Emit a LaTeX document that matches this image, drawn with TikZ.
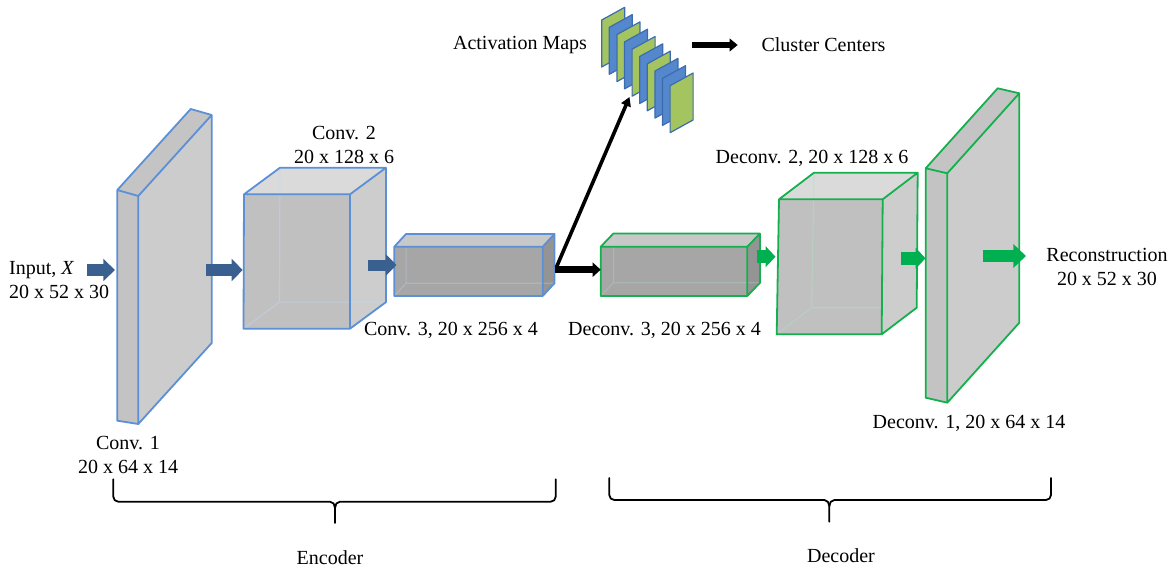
\documentclass[tikz,border=0pt]{standalone}
\usepackage{fontspec}
\setmainfont{Liberation Serif}
\usetikzlibrary{calc,arrows.meta}

\definecolor{boxblue}{RGB}{91,143,214}
\definecolor{boxgreen}{RGB}{20,176,78}
\definecolor{arrblue}{RGB}{58,96,144}
\definecolor{arrgreen}{RGB}{0,176,80}
\definecolor{mapg}{RGB}{163,196,94}
\definecolor{mapb}{RGB}{85,135,204}
\definecolor{mapedge}{RGB}{60,108,176}
% face shades: t = thin slab, c = cube, b = bar
\definecolor{tfront}{RGB}{195,195,195}
\definecolor{ttop}{RGB}{196,196,196}
\definecolor{tside}{RGB}{204,204,204}
\definecolor{cfront}{RGB}{192,192,192}
\definecolor{ctop}{RGB}{218,218,218}
\definecolor{cside}{RGB}{205,205,205}
\definecolor{bfront}{RGB}{166,166,166}
\definecolor{btop}{RGB}{200,200,200}
\definecolor{bside}{RGB}{148,148,148}

% #1 name, #2..#5 front corners (TL,TR,BR,BL), #6 depth offset, #7 edge colour, #8 shade family
\newcommand\prism[8]{%
  \coordinate (#1-A) at #2; \coordinate (#1-B) at #3;
  \coordinate (#1-C) at #4; \coordinate (#1-D) at #5;
  \coordinate (#1-E) at ($(#1-A)+#6$); \coordinate (#1-F) at ($(#1-B)+#6$);
  \coordinate (#1-G) at ($(#1-C)+#6$); \coordinate (#1-H) at ($(#1-D)+#6$);
  \fill[#8top] (#1-A) -- (#1-B) -- (#1-F) -- (#1-E) -- cycle;
  \fill[#8side] (#1-B) -- (#1-F) -- (#1-G) -- (#1-C) -- cycle;
  \fill[#8front] (#1-A) -- (#1-B) -- (#1-C) -- (#1-D) -- cycle;
  \draw[hiddenedge, draw=#7!35!white, #8hidden] (#1-E) -- (#1-H) -- (#1-G) (#1-H) -- (#1-D);
  \draw[boxedge, draw=#7] (#1-A) -- (#1-B) -- (#1-C) -- (#1-D) -- cycle
    (#1-A) -- (#1-E) -- (#1-F) -- (#1-G) -- (#1-C) (#1-B) -- (#1-F);
}

\tikzset{
  lbl/.style={font=\fontsize{20}{24}\selectfont, inner sep=0pt, align=center},
  boxedge/.style={line width=1.8pt, line join=round},
  hiddenedge/.style={line width=1.2pt, draw opacity=0.45},
  thidden/.style={draw opacity=0},
  chidden/.style={},
  bhidden/.style={draw opacity=0.3},
  blockarrow/.style n args={4}{draw=#4, line width=#1,
    -{Triangle[length=#2, width=#3, fill=#4]}},
  sheet/.style={draw=mapedge, line width=1.2pt, line join=round},
  bracepath/.style={line width=1.8pt, line join=round, line cap=round},
}

\begin{document}
\begin{tikzpicture}[x=1pt, y=-1pt]
\useasboundingbox (0,0) rectangle (1173,570);

% encoder blocks
\prism{conv1}{(117.3,190)}{(138.3,196)}{(138.3,424)}{(117.3,420.7)}{(73.4,-81)}{boxblue}{t}
\prism{conv2}{(244,194.3)}{(350,194.3)}{(350,328.7)}{(243.5,328.7)}{(36,-26.6)}{boxblue}{c}
\prism{conv3}{(394.3,246.7)}{(542.7,246.7)}{(542.7,296)}{(394.3,296)}{(11.8,-12.8)}{boxblue}{b}
% decoder blocks
\prism{dconv3}{(600.7,246.7)}{(747.3,246.7)}{(747.3,296)}{(600.7,296)}{(12.7,-13.2)}{boxgreen}{b}
\prism{dconv2}{(779,199.3)}{(882.7,199.3)}{(881.7,334.3)}{(776.7,334.3)}{(35,-26.6)}{boxgreen}{c}
\prism{dconv1}{(925.7,168.3)}{(947.3,173.3)}{(947.3,402.7)}{(925.7,397.7)}{(72,-80)}{boxgreen}{t}

% stack of activation maps
\foreach \c [count=\i from 0] in {mapg,mapb,mapg,mapb,mapg,mapb,mapg,mapb,mapb,mapg}
  \draw[sheet, fill=\c] ({601.7+7.6*\i},{20+7.3*\i}) -- ++(23,-12.7) -- ++(0,47) -- ++(-23,12.7) -- cycle;

% labels
\node[lbl, anchor=west, align=left] (input) at (9,280) {Input, \textit{X}\\20 x 52 x 30};
\node[lbl] (lconv1) at (128,455) {Conv. 1\\20 x 64 x 14};
\node[lbl] (lconv2) at (344,144.5) {Conv. 2\\20 x 128 x 6};
\node[lbl] (lconv3) at (451,330) {Conv. 3, 20 x 256 x 4};
\node[lbl] (ldconv3) at (664.5,330) {Deconv. 3, 20 x 256 x 4};
\node[lbl] (ldconv2) at (812,158) {Deconv. 2, 20 x 128 x 6};
\node[lbl] (ldconv1) at (969,423) {Deconv. 1, 20 x 64 x 14};
\node[lbl] (recon) at (1107,266.5) {Reconstruction\\20 x 52 x 30};
\node[lbl] (maps) at (520,45) {Activation Maps};
\node[lbl] (centers) at (823.5,45) {Cluster Centers};
\node[lbl] (enc) at (330,558) {Encoder};
\node[lbl] (dec) at (841,556) {Decoder};

% connector end points
\coordinate (a1s) at (87,270);    \coordinate (a1e) at (115,270);
\coordinate (a2s) at (206,270);   \coordinate (a2e) at (242.7,270);
\coordinate (a3s) at (368.3,265); \coordinate (a3e) at (396.5,265);
\coordinate (c3out) at (555,269.7); \coordinate (d3in) at (600.7,269.7);
\coordinate (c3up) at (556.5,267); \coordinate (mapsin) at (629.5,97);
\coordinate (g1s) at (756.7,256.7); \coordinate (g1e) at (775.5,256.7);
\coordinate (g2s) at (901,258.3);   \coordinate (g2e) at (925.5,258.3);
\coordinate (g3s) at (982.7,256);   \coordinate (g3e) at (1026,256);
\coordinate (mapsout) at (691.7,45); \coordinate (ccin) at (737.7,45);

% flow arrows
\draw[blockarrow={11.3pt}{11.7pt}{21.7pt}{arrblue}] (a1s) -- (a1e);
\draw[blockarrow={11.3pt}{11pt}{21.7pt}{arrblue}] (a2s) -- (a2e);
\draw[blockarrow={11pt}{10.7pt}{21pt}{arrblue}] (a3s) -- (a3e);
\draw[blockarrow={6.5pt}{8pt}{14pt}{black}] (c3out) -- (d3in);
\draw[line width=3.6pt, -{Triangle[length=9pt, width=10pt]}] (c3up) -- (mapsin);
\draw[blockarrow={6pt}{8pt}{12.5pt}{black}] (mapsout) -- (ccin);
\draw[blockarrow={12.5pt}{10pt}{20.7pt}{arrgreen}] (g1s) -- (g1e);
\draw[blockarrow={12.5pt}{10pt}{20.7pt}{arrgreen}] (g2s) -- (g2e);
\draw[blockarrow={12.3pt}{12.7pt}{23.3pt}{arrgreen}] (g3s) -- (g3e);

% braces
\draw[bracepath] (113.3,479.3) -- (113.3,496.7) to[out=-90,in=180] (118.3,501.7)
  -- (330,501.7) to[out=0,in=90] (335,507.7) -- (335,523);
\draw[bracepath] (555.7,479.3) -- (555.7,496.7) to[out=-90,in=0] (550.7,501.7)
  -- (340,501.7) to[out=180,in=90] (335,507.7);
\draw[bracepath] (609.3,478) -- (609.3,495) to[out=-90,in=180] (614.3,500)
  -- (824.3,500) to[out=0,in=90] (829.3,506) -- (829.3,521.7);
\draw[bracepath] (1051,478) -- (1051,495) to[out=-90,in=0] (1046,500)
  -- (834.3,500) to[out=180,in=90] (829.3,506);
\end{tikzpicture}
\end{document}
